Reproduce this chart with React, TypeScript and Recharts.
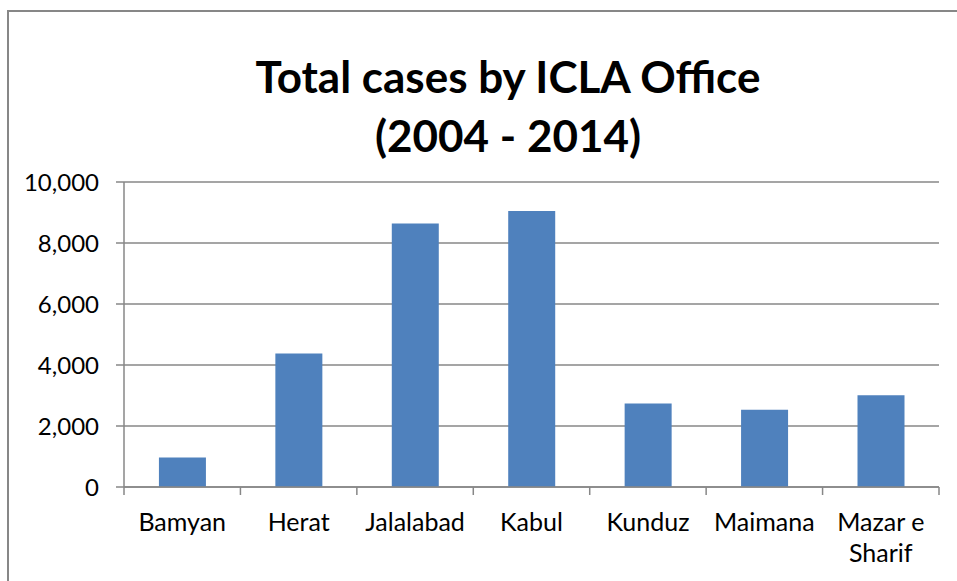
import React from "react"
import { BarChart, Bar, XAxis, YAxis, CartesianGrid } from "recharts"

const offices = ["Bamyan", "Herat", "Jalalabad", "Kabul", "Kunduz", "Maimana", "Mazar e Sharif"]
const totalCases = [970, 4380, 8640, 9050, 2740, 2530, 3010]
const yTicks = [0, 2000, 4000, 6000, 8000, 10000]

const data = offices.map((office, i) => ({ office, cases: totalCases[i] }))

const FONT = "Lato, 'Open Sans', sans-serif"
const GRAY = "#878787"

// category label + tick marks on the band edges (Excel style)
const OfficeTick = (props: any) => {
  const { x, y, payload, index, visibleTicksCount } = props
  const band = (Number(props.width) || 815) / (visibleTicksCount || offices.length)
  const label: string = payload.value
  const lines = label === "Mazar e Sharif" ? ["Mazar e", "Sharif"] : [label]
  const left = x - band / 2
  const right = x + band / 2
  return (
    <g>
      <line x1={left} x2={left} y1={y} y2={y + 8} stroke={GRAY} strokeWidth={1.5} />
      {index === visibleTicksCount - 1 && (
        <line x1={right} x2={right} y1={y} y2={y + 8} stroke={GRAY} strokeWidth={1.5} />
      )}
      {lines.map((line, i) => (
        <text
          key={i}
          x={x}
          y={y + 38 + i * 31}
          textAnchor="middle"
          dominantBaseline="middle"
          fontFamily={FONT}
          fontSize={25}
          fill="#000"
        >
          {line}
        </text>
      ))}
    </g>
  )
}

export default function App() {
  return (
    <div style={{ position: "absolute", left: 0, top: 0, width: 957, height: 581, background: "#fff", overflow: "hidden" }}>
      <div
        style={{
          position: "absolute",
          left: 7,
          top: 10,
          width: 1100,
          height: 700,
          borderLeft: `2px solid ${GRAY}`,
          borderTop: `2px solid ${GRAY}`,
        }}
      />
      <div
        style={{
          position: "absolute",
          left: 0,
          width: 1016,
          top: 47,
          textAlign: "center",
          fontFamily: FONT,
          fontWeight: 700,
          fontSize: 44,
          lineHeight: "59px",
          color: "#000",
        }}
      >
        Total cases by ICLA Office
        <br />
        (2004 - 2014)
      </div>
      <BarChart
        width={957}
        height={581}
        data={data}
        margin={{ top: 182, right: 18, left: 0, bottom: 34 }}
        barCategoryGap="30%"
        style={{ position: "absolute", left: 0, top: 0 }}
      >
        <CartesianGrid vertical={false} stroke={GRAY} strokeWidth={1.5} />
        <XAxis
          dataKey="office"
          height={60}
          axisLine={{ stroke: GRAY, strokeWidth: 1.5 }}
          tickLine={false}
          tickSize={0}
          tickMargin={0}
          interval={0}
          tick={<OfficeTick />}
        />
        <YAxis
          width={124}
          domain={[0, 10000]}
          ticks={yTicks}
          axisLine={{ stroke: GRAY, strokeWidth: 1.5 }}
          tickLine={{ stroke: GRAY, strokeWidth: 1.5 }}
          tickSize={8}
          tickMargin={17}
          tickFormatter={(v: number) => v.toLocaleString("en-US")}
          tick={{ fontFamily: FONT, fontSize: 24, fill: "#000" }}
        />
        <Bar dataKey="cases" fill="#4F81BD" isAnimationActive={false} />
      </BarChart>
    </div>
  )
}
